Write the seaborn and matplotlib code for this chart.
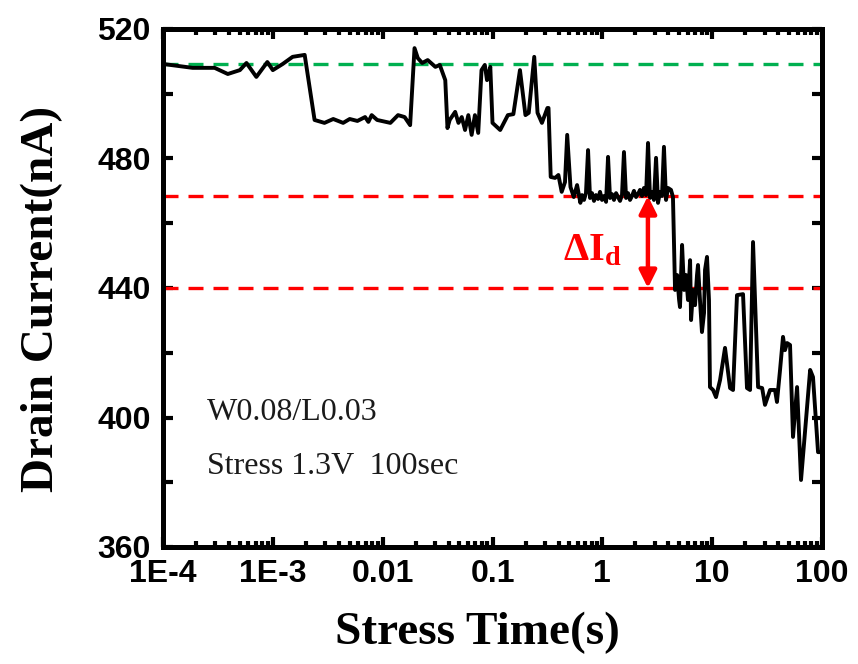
import numpy as np
import pandas as pd
import matplotlib
matplotlib.use("Agg")
import matplotlib.pyplot as plt
import seaborn as sns

# ---- data ----
log_time = [
    -4.00, -3.73, -3.53, -3.41, -3.30, -3.24, -3.15, -3.05, -3.00, -2.91, -2.82, -2.71,
    -2.62, -2.53, -2.45, -2.36, -2.30, -2.23, -2.16, -2.13, -2.10, -2.05, -1.93, -1.86,
    -1.80, -1.75, -1.71, -1.68, -1.64, -1.59, -1.52, -1.48, -1.43, -1.41, -1.39, -1.34,
    -1.31, -1.28, -1.25, -1.22, -1.19, -1.16, -1.13, -1.10, -1.07, -1.05, -1.02, -1.00,
    -0.93, -0.86, -0.81, -0.75, -0.70, -0.67, -0.62, -0.59, -0.55, -0.50, -0.49, -0.47,
    -0.43, -0.40, -0.37, -0.34, -0.32, -0.29, -0.26, -0.23, -0.20,
    -0.185, -0.167, -0.149, -0.130, -0.112, -0.094, -0.076, -0.058, -0.039, -0.021,
    -0.003, 0.015, 0.034, 0.052, 0.070, 0.088, 0.106, 0.125, 0.143, 0.161, 0.179,
    0.197, 0.216, 0.234, 0.252, 0.270, 0.288, 0.307, 0.325, 0.343, 0.361, 0.379,
    0.398, 0.416, 0.434, 0.452, 0.470, 0.489, 0.507, 0.525, 0.543, 0.561, 0.580,
    0.598, 0.625, 0.643,
    0.662, 0.681, 0.699, 0.707, 0.726, 0.744, 0.762, 0.780, 0.799, 0.808, 0.826,
    0.844, 0.862, 0.871, 0.889, 0.907, 0.926, 0.935, 0.953, 0.971, 0.980, 1.008,
    1.035, 1.072, 1.117, 1.163, 1.190, 1.226, 1.281, 1.317, 1.345, 1.372, 1.418,
    1.455, 1.481, 1.527, 1.572, 1.590, 1.618, 1.645, 1.663, 1.682, 1.709, 1.736,
    1.773, 1.809, 1.892, 1.918, 1.964, 2.000,
]
drain_current = [
    509.2, 508.0, 508.0, 506.1, 507.3, 509.5, 505.2, 509.8, 507.3, 509.2, 511.4, 512.0,
    491.9, 491.0, 492.2, 491.0, 492.2, 491.6, 492.8, 491.3, 493.4, 491.9, 491.0, 493.4,
    492.8, 490.3, 514.1, 511.0, 509.5, 510.4, 508.3, 508.9, 504.2, 489.4, 491.9, 494.4,
    491.0, 492.8, 488.8, 493.4, 487.3, 493.4, 487.9, 507.3, 508.9, 504.2, 508.3, 491.0,
    488.8, 493.4, 493.7, 507.3, 493.4, 494.1, 511.4, 494.1, 491.0, 495.6, 495.6, 474.3,
    474.0, 474.9, 469.7, 472.7, 487.3, 471.2, 468.1, 471.8, 466.3,
    468.7, 467.2, 469.3, 482.6, 467.8, 469.3, 466.9, 468.7, 467.5, 469.7,
    467.2, 468.4, 466.6, 480.5, 467.8, 469.0, 467.2, 469.3, 468.1, 466.9, 468.7,
    482.0, 467.8, 469.3, 467.2, 468.4, 470.0, 468.1, 469.0, 470.3, 468.4, 470.9,
    468.7, 484.8, 467.8, 469.7, 467.2, 480.2, 466.3, 469.7, 468.4, 483.6, 467.2,
    470.9, 470.3, 468.1,
    439.4, 444.0, 436.3, 434.1, 453.3, 439.4, 444.0, 436.3, 448.6, 430.1, 439.4,
    434.7, 444.0, 447.1, 436.3, 426.4, 432.3, 445.6, 449.6, 436.3, 409.4, 408.5,
    406.3, 411.6, 421.5, 409.1, 408.5, 437.8, 438.1, 409.1, 408.5, 454.2, 409.4,
    409.1, 403.9, 408.5, 408.5, 404.8, 414.7, 424.9, 420.8, 423.0, 422.4, 394.0,
    409.4, 380.7, 414.7, 412.5, 389.3, 389.3,
]
green_level = 509.2
red_upper = 468.4
red_lower = 440.0
arrow_time = 2.6

x_ticks = [1e-4, 1e-3, 1e-2, 1e-1, 1, 10, 100]
x_tick_labels = ["1E-4", "1E-3", "0.01", "0.1", "1", "10", "100"]
y_ticks = [360, 400, 440, 480, 520]
y_minor = [380, 420, 460, 500]

df = pd.DataFrame({"time": 10.0 ** np.array(log_time), "current": drain_current})

sns.set_theme(style="white")
plt.rcParams["mathtext.fontset"] = "custom"
plt.rcParams["mathtext.rm"] = "Liberation Serif"
plt.rcParams["mathtext.bf"] = "Liberation Serif:bold"
plt.rcParams["mathtext.it"] = "Liberation Serif:italic"

fig = plt.figure(figsize=(8.58, 6.64), dpi=100)
ax = fig.add_axes([163 / 858, 1 - 547 / 664, 659 / 858, 518 / 664])

dash = (0, (4.5, 3.0))
ax.axhline(green_level, color="#00B050", lw=2.4, ls=dash, zorder=1)
ax.axhline(red_upper, color="#FF0000", lw=2.4, ls=dash, zorder=1)
ax.axhline(red_lower, color="#FF0000", lw=2.4, ls=dash, zorder=1)

sns.lineplot(data=df, x="time", y="current", estimator=None, sort=False,
             color="black", lw=2.8, ax=ax, zorder=3)

ax.annotate("", xy=(arrow_time, red_lower), xytext=(arrow_time, red_upper),
            arrowprops=dict(arrowstyle="<|-|>", color="#FF0000", lw=3.2,
                            mutation_scale=26, shrinkA=0, shrinkB=0), zorder=4)
ax.text(0.651, 0.575, r"$\mathbf{\Delta I_d}$", transform=ax.transAxes,
        color="#FF0000", fontsize=29, ha="center", va="center")

ax.text(0.067, 0.259, "W0.08/L0.03", transform=ax.transAxes,
        family="Liberation Serif", fontsize=23, va="center", ha="left", color="#1a1a1a")
ax.text(0.067, 0.156, "Stress 1.3V  100sec", transform=ax.transAxes,
        family="Liberation Serif", fontsize=23, va="center", ha="left", color="#1a1a1a")

ax.set_xscale("log")
ax.set_xlim(1e-4, 100)
ax.set_ylim(360, 520)
ax.set_xticks(x_ticks)
ax.set_xticklabels(x_tick_labels)
ax.set_yticks(y_ticks)
ax.set_yticks(y_minor, minor=True)
ax.xaxis.set_minor_locator(matplotlib.ticker.LogLocator(base=10, subs=np.arange(2, 10)))
ax.xaxis.set_minor_formatter(matplotlib.ticker.NullFormatter())

for lab in ax.get_xticklabels() + ax.get_yticklabels():
    lab.set_family("Liberation Sans")
    lab.set_fontweight("bold")
    lab.set_fontsize(23)
    lab.set_color("black")

ax.tick_params(which="both", direction="in", left=True, bottom=True, top=True,
               right=True, color="black")
ax.tick_params(which="major", length=7, width=3, pad=9)
ax.tick_params(which="minor", length=4, width=3)
ax.tick_params(axis="y", which="minor", length=7)

for sp in ax.spines.values():
    sp.set_linewidth(3.6)
    sp.set_color("black")

ax.set_xlabel("Stress Time(s)", family="Liberation Serif", fontweight="bold",
              fontsize=34, color="black")
ax.set_ylabel("Drain Current(nA)", family="Liberation Serif", fontweight="bold",
              fontsize=34, color="black")
ax.xaxis.set_label_coords(0.477, -0.125)
ax.yaxis.set_label_coords(-0.152, 0.478)
ax.grid(False)

fig.savefig("out.png", dpi=100)
